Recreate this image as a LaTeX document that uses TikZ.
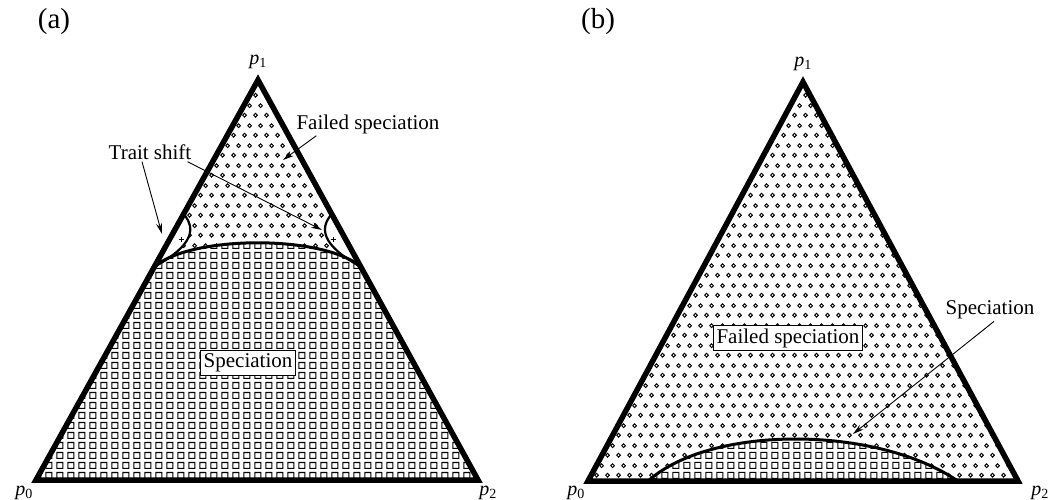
\documentclass[tikz,border=0pt]{standalone}
\usepackage{fontspec}
\setmainfont{Liberation Serif}
\usetikzlibrary{arrows.meta,patterns,calc,positioning}

% fill patterns: small rings (failed speciation) and small squares (speciation)
\pgfdeclarepatternformonly{ringdots}{\pgfpointorigin}{\pgfpoint{11pt}{20pt}}{\pgfpoint{11pt}{20pt}}{
  \pgfsetlinewidth{1pt}
  \pgfpathcircle{\pgfpoint{2.75pt}{5pt}}{2pt}
  \pgfpathcircle{\pgfpoint{8.25pt}{15pt}}{2pt}
  \pgfusepath{stroke}}
\pgfdeclarepatternformonly{boxdots}{\pgfpointorigin}{\pgfpoint{11pt}{10pt}}{\pgfpoint{11pt}{10pt}}{
  \pgfsetlinewidth{1.2pt}
  \pgfpathrectangle{\pgfpoint{2pt}{1.75pt}}{\pgfpoint{6.5pt}{6.5pt}}
  \pgfusepath{stroke}}

\begin{document}
\begin{tikzpicture}[
  x=1pt, y=-1pt,
  rim/.style={line width=5.5pt, line join=miter},
  divide/.style={line width=3pt},
  shiftline/.style={line width=2.2pt},
  txt/.style={font=\fontsize{21}{25}\selectfont, inner sep=2pt},
  ptxt/.style={font=\fontsize{20}{24}\selectfont, inner sep=1pt},
  panel/.style={font=\fontsize{29}{33}\selectfont},
  namebox/.style={txt, draw, fill=white, line width=1pt, inner sep=3pt},
  pointer/.style={-{Stealth[length=11pt,width=6pt]}, line width=0.9pt},
  ringfill/.style={preaction={fill=white}, pattern=ringdots},
  boxfill/.style={preaction={fill=white}, pattern=boxdots}
]
  \useasboundingbox (0,0) rectangle (1054,500);

  % ---- panel (a)
  \coordinate (a0) at (36,480);
  \coordinate (a1) at (258,80);
  \coordinate (a2) at (478,480);
  \coordinate (aL) at ($(a0)!0.533!(a1)$);
  \coordinate (aR) at ($(a2)!0.533!(a1)$);
  \coordinate (aTL) at ($(a0)!0.665!(a1)$);
  \coordinate (aTR) at ($(a2)!0.665!(a1)$);

  \fill[ringfill] (a0) -- (a1) -- (a2) -- cycle;
  \fill[boxfill] (aL) .. controls ($(aL)+(37,-32)$) and ($(aR)+(-37,-32)$) .. (aR)
    -- (a2) -- (a0) -- cycle;
  % trait shift zones
  \fill[white] (aTL) .. controls ($(aTL)+(12,14)$) and ($(aL)+(40,-22)$) .. (aL) -- cycle;
  \fill[white] (aTR) .. controls ($(aTR)+(-12,14)$) and ($(aR)+(-40,-22)$) .. (aR) -- cycle;
  \foreach \dx/\dy in {27/-27, 20/-12} {
    \draw[line width=0.8pt] ($(aL)+(\dx,\dy)+(-2.5,0)$) -- +(5,0) ($(aL)+(\dx,\dy)+(0,-2.5)$) -- +(0,5);
    \draw[line width=0.8pt] ($(aR)+(-\dx,\dy)+(-2.5,0)$) -- +(5,0) ($(aR)+(-\dx,\dy)+(0,-2.5)$) -- +(0,5);
  }
  \draw[shiftline] (aTL) .. controls ($(aTL)+(12,14)$) and ($(aL)+(40,-22)$) .. (aL);
  \draw[shiftline] (aTR) .. controls ($(aTR)+(-12,14)$) and ($(aR)+(-40,-22)$) .. (aR);
  \draw[divide] (aL) .. controls ($(aL)+(37,-32)$) and ($(aR)+(-37,-32)$) .. (aR);
  \draw[rim] (a0) -- (a1) -- (a2) -- cycle;

  \node[panel] (tagA) at (54,22) {(a)};
  \node[ptxt] (pa1) at (258,62) {\textit{p}\textsubscript{1}};
  \node[ptxt] (pa0) at (24,493) {\textit{p}\textsubscript{0}};
  \node[ptxt] (pa2) at (488,493) {\textit{p}\textsubscript{2}};

  \node[txt] (shift) at (150,152) {Trait shift};
  \node[txt] (failA) at (368,124) {Failed speciation};
  \node[namebox] (specA) at (248,363) {Speciation};
  \coordinate (shiftL) at (162,234);
  \coordinate (shiftR) at (322,230);
  \coordinate (failTip) at (283,160);
  \draw[pointer] ($(shift.south)+(-8,0)$) -- (shiftL);
  \draw[pointer] ($(shift.south east)+(-6,0)$) -- (shiftR);
  \draw[pointer] ($(failA.south west)+(22,0)$) -- (failTip);

  % ---- panel (b)
  \coordinate (b0) at (588,481);
  \coordinate (b1) at (803,82);
  \coordinate (b2) at (1018,481);
  \coordinate (bL) at ($(b0)!0.14!(b2)$);
  \coordinate (bR) at ($(b0)!0.86!(b2)$);

  \fill[ringfill] (b0) -- (b1) -- (b2) -- cycle;
  \fill[boxfill] (bL) .. controls ($(bL)+(62,-56)$) and ($(bR)+(-82,-56)$) .. (bR) -- cycle;
  \draw[divide] (bL) .. controls ($(bL)+(62,-56)$) and ($(bR)+(-82,-56)$) .. (bR);
  \draw[rim] (b0) -- (b1) -- (b2) -- cycle;

  \node[panel] (tagB) at (598,22) {(b)};
  \node[ptxt] (pb1) at (803,64) {\textit{p}\textsubscript{1}};
  \node[ptxt] (pb0) at (576,493) {\textit{p}\textsubscript{0}};
  \node[ptxt] (pb2) at (1040,493) {\textit{p}\textsubscript{2}};

  \node[namebox] (failB) at (788,338) {Failed speciation};
  \node[txt] (specB) at (990,310) {Speciation};
  \coordinate (specTip) at (853,434);
  \draw[pointer] ($(specB.south)+(4,0)$) -- (specTip);
\end{tikzpicture}
\end{document}
